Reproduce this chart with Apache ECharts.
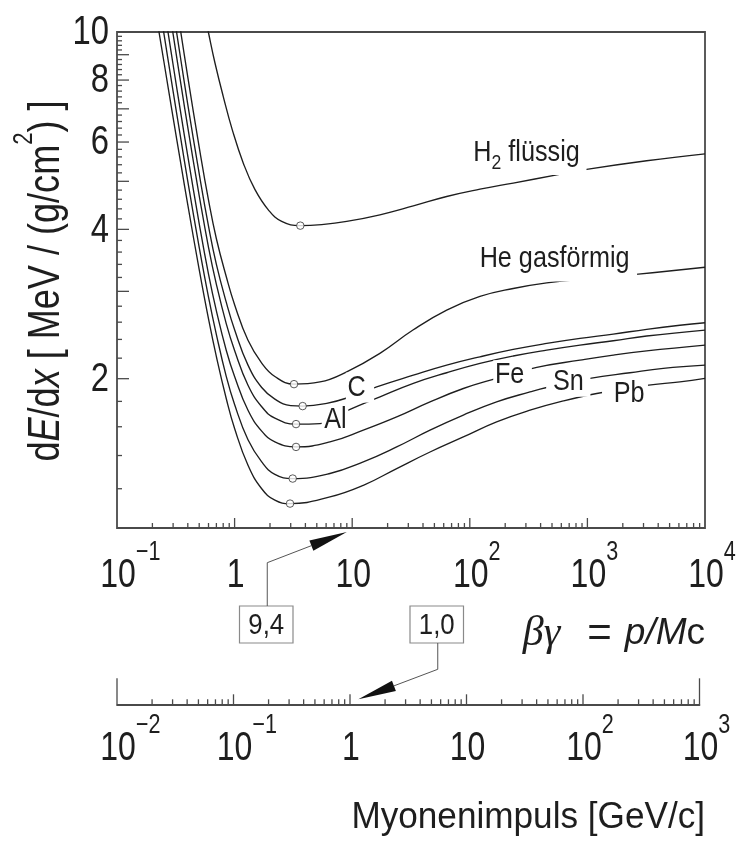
<!DOCTYPE html>
<html>
<head>
<meta charset="utf-8">
<script src="https://cdn.jsdelivr.net/npm/echarts@6.0.0/dist/echarts.min.js"></script>
<style>
html,body{margin:0;padding:0;background:#fff;}
#chart{width:745px;height:843px;}
</style>
</head>
<body>
<div id="chart"></div>
<script>
// ---------------- data ----------------
// βγ and dE/dx [MeV/(g/cm²)]
const h2Bg   = [0.55, 0.598, 0.681, 0.801, 0.956, 1.186, 1.491, 1.935, 2.515, 3.62, 5.5, 8.98, 17.2, 33.1, 63.6, 122, 234, 548, 1018, 3190, 10000];
const h2Dedx = [11.0, 10.0, 8.66, 7.41, 6.35, 5.44, 4.81, 4.38, 4.15, 4.07, 4.09, 4.15, 4.28, 4.46, 4.66, 4.82, 4.96, 5.15, 5.29, 5.50, 5.68];

const heBg   = [0.3, 0.35, 0.4, 0.5, 0.6, 0.7, 0.85, 1.0, 1.3, 1.7, 2.2, 3.2, 5.32, 8.98, 17.2, 33.1, 63.6, 122, 234, 451, 1122, 2710, 10000];
const heDedx = [12.68, 9.94, 8.11, 5.86, 4.58, 3.83, 3.21, 2.82, 2.39, 2.15, 2.02, 1.95, 1.97, 2.065, 2.25, 2.51, 2.75, 2.93, 3.04, 3.12, 3.19, 3.25, 3.355];

const cBg   = [0.3, 0.35, 0.4, 0.5, 0.6, 0.7, 0.85, 1.0, 1.3, 1.7, 2.2, 3.0, 3.79, 6.07, 9.58, 16.16, 33.1, 63.6, 122, 234, 451, 865, 1660, 3190, 6120, 10000];
const cDedx = [11.10, 8.75, 7.14, 5.18, 4.06, 3.40, 2.85, 2.51, 2.13, 1.92, 1.819, 1.765, 1.761, 1.783, 1.838, 1.926, 2.033, 2.13, 2.214, 2.291, 2.356, 2.412, 2.46, 2.515, 2.563, 2.593];

const alBg   = [0.25, 0.3, 0.35, 0.4, 0.5, 0.6, 0.7, 0.85, 1.0, 1.3, 1.7, 2.2, 3.33, 5.32, 9.27, 17.24, 33.1, 63.6, 122, 234, 451, 865, 1660, 3190, 10000];
const alDedx = [13.14, 9.90, 7.83, 6.42, 4.68, 3.68, 3.10, 2.58, 2.28, 1.94, 1.756, 1.665, 1.62, 1.624, 1.728, 1.838, 1.957, 2.056, 2.147, 2.222, 2.284, 2.338, 2.385, 2.438, 2.506];

const feBg   = [0.25, 0.3, 0.35, 0.4, 0.5, 0.6, 0.7, 0.85, 1.0, 1.3, 1.7, 2.2, 3.33, 6.47, 12.43, 23.9, 45.9, 88.1, 158, 371, 865, 1660, 3190, 10000];
const feDedx = [11.33, 8.59, 6.82, 5.62, 4.11, 3.25, 2.74, 2.28, 2.02, 1.727, 1.568, 1.492, 1.457, 1.491, 1.575, 1.675, 1.796, 1.911, 1.994, 2.108, 2.18, 2.232, 2.276, 2.338];

const snBg   = [0.2, 0.25, 0.3, 0.35, 0.4, 0.5, 0.6, 0.7, 0.85, 1.0, 1.3, 1.7, 2.2, 3.12, 6.47, 12.43, 23.9, 45.9, 88.1, 169, 325, 451, 1052, 2300, 4420, 10000];
const snDedx = [13.87, 9.96, 7.59, 6.06, 5.00, 3.68, 2.92, 2.455, 2.02, 1.774, 1.506, 1.359, 1.283, 1.258, 1.288, 1.359, 1.457, 1.575, 1.689, 1.796, 1.881, 1.92, 2.003, 2.056, 2.098, 2.13];

const pbBg   = [0.2, 0.25, 0.3, 0.35, 0.4, 0.5, 0.6, 0.7, 0.85, 1.0, 1.3, 1.7, 2.2, 2.96, 6.47, 12.43, 23.9, 45.9, 88.1, 169, 325, 624, 1200, 3190, 6120, 10000];
const pbDedx = [12.04, 8.74, 6.72, 5.40, 4.48, 3.32, 2.64, 2.215, 1.822, 1.587, 1.338, 1.20, 1.138, 1.12, 1.155, 1.219, 1.318, 1.423, 1.526, 1.637, 1.728, 1.804, 1.867, 1.939, 1.971, 2.003];

// minima (open circles)
const minBg   = [3.62, 3.2, 3.79, 3.33, 3.33, 3.12, 2.96];
const minDedx = [4.07, 1.95, 1.761, 1.62, 1.457, 1.258, 1.12];

// curve labels
const curveLabels    = ['{t|H}{s|2}{t| flüssig}', '{t|He gasförmig}', '{t|C}', '{t|Al}', '{t|Fe}', '{t|Sn}', '{t|Pb}'];
const curveLabelBg   = [314, 548, 11.65, 7.14, 231, 688, 2088];
const curveLabelDedx = [5.61, 3.43, 1.919, 1.65, 2.033, 1.971, 1.862];

// axes / ticks
const bgMin = 0.1, bgMax = 10000;
const dedxMin = 1, dedxMax = 10;
const pMin = 0.01, pMax = 1000;
const yTickValues = [1.2,1.4,1.6,1.8,2,2.2,2.4,2.6,2.8,3,3.2,3.4,3.6,3.8,4,4.2,4.4,4.6,4.8,5,5.2,5.4,5.6,5.8,6,6.2,6.4,6.6,6.8,7,7.2,7.4,7.6,7.8,8,8.2,8.4,8.6,8.8,9,9.2,9.4,9.6,9.8];
const yLabelValues = [2, 4, 6, 8, 10];
const decadeSteps = [2, 3, 4, 5, 6, 7, 8, 9];
const bgDecades = [0.1, 1, 10, 100, 1000];
const pDecades = [0.01, 0.1, 1, 10, 100];
const bgLabelValues = [0.1, 1, 10, 100, 1000, 10000];
const pLabelValues = [0.01, 0.1, 1, 10, 100, 1000];

// annotations
const boxTexts = ['9,4', '1,0'];
const arrowTipBg = 9.0;   // arrow to βγ axis
const arrowTipP = 1.18;   // arrow to momentum axis

// ---------------- styling ----------------
const FR = "'Liberation Sans','Arial',sans-serif";
const FS = "'Liberation Serif','DejaVu Serif',serif";
const INK = '#1e1e1e';
const AX = '#4a4a4a';
const NARROW = 0.8;

const chart = echarts.init(document.getElementById('chart'), null, {renderer: 'canvas'});

function pairs(xs, ys) { return xs.map((x, i) => [x, ys[i]]); }

const curves = [
  [h2Bg, h2Dedx], [heBg, heDedx], [cBg, cDedx], [alBg, alDedx],
  [feBg, feDedx], [snBg, snDedx], [pbBg, pbDedx]
];

function powLabel(v) {
  const e = Math.round(Math.log10(v));
  if (e === 0) return '{b|1}';
  if (e === 1) return '{b|10}';
  const s = (e < 0 ? '−' : '') + Math.abs(e);
  return (s.length > 1 ? '{sp2| }' : '{sp1| }') + '{b|10}{sup|' + s + '}';
}
const powRich = {
  b:   {fontFamily: FR, fontSize: 40, fill: INK, lineHeight: 74, verticalAlign: 'middle'},
  sup: {fontFamily: FR, fontSize: 27, fill: INK, lineHeight: 4, verticalAlign: 'top'},
  sp1: {width: 15, lineHeight: 74, verticalAlign: 'middle'},
  sp2: {width: 31, lineHeight: 74, verticalAlign: 'middle'}
};

const labelPads = [[0, 8, 7, 4], [0, 9, 8, 4], [0, 10, 0, 2], [0, 2, 0, 3], [0, 9, 0, 2], [0, 8, 0, 8], [0, 4, 0, 14]];

const mainTicks = [];
bgDecades.forEach(d => decadeSteps.forEach(m => mainTicks.push([d * m, dedxMin, 0])));
[1, 10, 100, 1000].forEach(v => mainTicks.push([v, dedxMin, 1]));

const pTicks = [];
pDecades.forEach(d => decadeSteps.forEach(m => pTicks.push([d * m, 0, 0])));
[0.1, 1, 10, 100].forEach(v => pTicks.push([v, 0, 1]));
[pMin, pMax].forEach(v => pTicks.push([v, 0, 2]));

const series = [];
curves.forEach((c) => {
  series.push({
    type: 'line', xAxisIndex: 0, yAxisIndex: 0,
    data: pairs(c[0], c[1]),
    smooth: 0.45,
    symbol: 'none', showSymbol: false, clip: true,
    lineStyle: {color: INK, width: 1.35},
    z: 2, silent: true, animation: false
  });
});

// curve labels with white knock-out
series.push({
  type: 'custom', xAxisIndex: 0, yAxisIndex: 0,
  data: curveLabelBg.map((x, i) => [x, curveLabelDedx[i], i]),
  renderItem: (params, api) => {
    const p = api.coord([api.value(0), api.value(1)]);
    const i = api.value(2);
    return {
      type: 'text', x: p[0], y: p[1], scaleX: 0.84,
      style: {
        text: curveLabels[i], align: 'center', verticalAlign: 'middle',
        backgroundColor: '#fff', padding: labelPads[i],
        rich: {
          t: {fontFamily: FR, fontSize: 30, fill: INK, lineHeight: 30, verticalAlign: 'middle'},
          s: {fontFamily: FR, fontSize: 21, fill: INK, lineHeight: 9, verticalAlign: 'bottom', padding: [0, 0, -6, 0]}
        }
      }
    };
  },
  z: 3, silent: true, animation: false
});

series.push({
  type: 'scatter', xAxisIndex: 0, yAxisIndex: 0,
  data: pairs(minBg, minDedx),
  symbol: 'circle', symbolSize: 7.5,
  itemStyle: {color: '#fff', borderColor: '#333', borderWidth: 1},
  z: 4, silent: true, animation: false
});

// y ticks
series.push({
  type: 'custom', xAxisIndex: 0, yAxisIndex: 0,
  data: yTickValues.map(v => [bgMin, v]),
  renderItem: (params, api) => {
    const v = api.value(1);
    const p = api.coord([api.value(0), v]);
    const major = Math.abs(v - Math.round(v)) < 1e-9;
    return {type: 'line', shape: {x1: p[0], y1: p[1], x2: p[0] + (major ? 12 : 5), y2: p[1]}, style: {stroke: AX, lineWidth: 1.3}};
  },
  z: 5, silent: true, animation: false
});
// y labels
series.push({
  type: 'custom', xAxisIndex: 0, yAxisIndex: 0,
  data: yLabelValues.map(v => [bgMin, v]),
  renderItem: (params, api) => {
    const v = api.value(1);
    const p = api.coord([api.value(0), v]);
    return {
      type: 'text', x: p[0] - 8, y: p[1] + 1, scaleX: NARROW,
      style: {text: String(v), fontFamily: FR, fontSize: 41, fill: INK, align: 'right', verticalAlign: 'middle'}
    };
  },
  z: 5, silent: true, animation: false
});

// x ticks main axis
series.push({
  type: 'custom', xAxisIndex: 0, yAxisIndex: 0,
  data: mainTicks,
  renderItem: (params, api) => {
    const p = api.coord([api.value(0), api.value(1)]);
    const len = api.value(2) ? 10 : 5;
    return {type: 'line', shape: {x1: p[0], y1: p[1], x2: p[0], y2: p[1] - len}, style: {stroke: AX, lineWidth: 1.3}};
  },
  z: 5, silent: true, animation: false
});
// x labels main axis
series.push({
  type: 'custom', xAxisIndex: 0, yAxisIndex: 0,
  data: bgLabelValues.map(v => [v, dedxMin]),
  renderItem: (params, api) => {
    const v = api.value(0);
    const p = api.coord([v, api.value(1)]);
    return {
      type: 'text', x: p[0] + 1, y: p[1] + 48, scaleX: NARROW,
      style: {text: powLabel(v), rich: powRich, align: 'center', verticalAlign: 'middle'}
    };
  },
  z: 5, silent: true, animation: false
});

// momentum axis ticks
series.push({
  type: 'custom', xAxisIndex: 1, yAxisIndex: 1,
  data: pTicks,
  renderItem: (params, api) => {
    const p = api.coord([api.value(0), api.value(1)]);
    const k = api.value(2);
    const len = k === 2 ? 26 : (k === 1 ? 10 : 5);
    return {type: 'line', shape: {x1: p[0], y1: p[1], x2: p[0], y2: p[1] - len}, style: {stroke: AX, lineWidth: 1.3}};
  },
  z: 5, silent: true, animation: false
});
// momentum axis labels
series.push({
  type: 'custom', xAxisIndex: 1, yAxisIndex: 1,
  data: pLabelValues.map(v => [v, 0]),
  renderItem: (params, api) => {
    const v = api.value(0);
    const p = api.coord([v, api.value(1)]);
    return {
      type: 'text', x: p[0] + 1, y: p[1] + 45, scaleX: NARROW,
      style: {text: powLabel(v), rich: powRich, align: 'center', verticalAlign: 'middle'}
    };
  },
  z: 5, silent: true, animation: false
});

const option = {
  backgroundColor: '#fff',
  animation: false,
  grid: [
    {left: 117, top: 32, width: 588, height: 496, show: true, borderColor: AX, borderWidth: 1.8, backgroundColor: 'transparent', containLabel: false, outerBoundsMode: 'none'},
    {left: 117, top: 680, width: 582.5, height: 24.3, show: false, containLabel: false, outerBoundsMode: 'none'}
  ],
  xAxis: [
    {
      type: 'log', logBase: 10, gridIndex: 0, min: bgMin, max: bgMax,
      axisLine: {show: false}, axisTick: {show: false}, splitLine: {show: false}, axisLabel: {show: false}
    },
    {
      type: 'log', logBase: 10, gridIndex: 1, min: pMin, max: pMax,
      axisLine: {show: true, onZero: false, lineStyle: {color: AX, width: 1.8}},
      axisTick: {show: false}, splitLine: {show: false}, axisLabel: {show: false}
    }
  ],
  yAxis: [
    {
      type: 'log', logBase: 10, gridIndex: 0, min: dedxMin, max: dedxMax,
      axisLine: {show: false}, axisTick: {show: false}, axisLabel: {show: false}, splitLine: {show: false}
    },
    {type: 'value', gridIndex: 1, min: 0, max: 1, show: false}
  ],
  series
};

chart.setOption(option);

// ---------------- annotations (anchored through the axes) ----------------
const tip1x = chart.convertToPixel({xAxisIndex: 0}, arrowTipBg);
const axis0y = chart.convertToPixel({yAxisIndex: 0}, dedxMin);
const tip2x = chart.convertToPixel({xAxisIndex: 1}, arrowTipP);
const axis1y = chart.convertToPixel({yAxisIndex: 1}, 0);

function arrow(elbow, tip) {
  const dx = tip[0] - elbow[0], dy = tip[1] - elbow[1];
  const L = Math.hypot(dx, dy), ux = dx / L, uy = dy / L;
  const base = [tip[0] - ux * 38, tip[1] - uy * 38];
  const px = -uy * 5.5, py = ux * 5.5;
  return {
    line: base,
    head: [[tip[0], tip[1]], [base[0] + px, base[1] + py], [base[0] - px, base[1] - py]]
  };
}

const box1 = {x: 239.5, y: 606, w: 53.5, h: 37};
const box2 = {x: 410, y: 606, w: 53.5, h: 37};
const elbow1 = [box1.x + box1.w / 2 + 1, 562.7];
const tip1 = [tip1x, axis0y + 4];
const a1 = arrow(elbow1, tip1);
const elbow2 = [box2.x + box2.w / 2 + 1, 669.3];
const tip2 = [tip2x, axis1y - 5];
const a2 = arrow(elbow2, tip2);

const graphics = [
  {type: 'rect', shape: {x: box1.x, y: box1.y, width: box1.w, height: box1.h}, style: {fill: '#fff', stroke: '#8a8a8a', lineWidth: 1.2}, z: 10},
  {type: 'text', x: box1.x + box1.w / 2, y: box1.y + box1.h / 2 + 1, scaleX: 0.86, style: {text: boxTexts[0], fontFamily: FR, fontSize: 30, fill: INK, align: 'center', verticalAlign: 'middle'}, z: 11},
  {type: 'rect', shape: {x: box2.x, y: box2.y, width: box2.w, height: box2.h}, style: {fill: '#fff', stroke: '#8a8a8a', lineWidth: 1.2}, z: 10},
  {type: 'text', x: box2.x + box2.w / 2, y: box2.y + box2.h / 2 + 1, scaleX: 0.86, style: {text: boxTexts[1], fontFamily: FR, fontSize: 30, fill: INK, align: 'center', verticalAlign: 'middle'}, z: 11},
  {type: 'polyline', shape: {points: [[elbow1[0], box1.y], elbow1, a1.line]}, style: {stroke: '#555', lineWidth: 1, fill: null}, z: 10},
  {type: 'polygon', shape: {points: a1.head}, style: {fill: '#111'}, z: 10},
  {type: 'polyline', shape: {points: [[elbow2[0], box2.y + box2.h], elbow2, a2.line]}, style: {stroke: '#555', lineWidth: 1, fill: null}, z: 10},
  {type: 'polygon', shape: {points: a2.head}, style: {fill: '#111'}, z: 10},
  // y axis title
  {
    type: 'text', x: 47, y: 281, rotation: Math.PI / 2, scaleX: 0.82,
    style: {
      text: '{r|d}{i|E}{r|/d}{i|x}{r| [ MeV / (g/cm}{sup|2}{r|) ]}',
      align: 'center', verticalAlign: 'middle',
      rich: {
        r: {fontFamily: FR, fontSize: 44, fill: INK, lineHeight: 72, verticalAlign: 'middle'},
        i: {fontFamily: FR, fontSize: 44, fontStyle: 'italic', fill: INK, lineHeight: 72, verticalAlign: 'middle'},
        sup: {fontFamily: FR, fontSize: 27, fill: INK, lineHeight: 6, verticalAlign: 'top'}
      }
    },
    z: 10
  },
  // βγ title
  {
    type: 'text', x: 705, y: 634,
    style: {
      text: '{g|βγ}{e|=}{i|p/M}{c|c}',
      align: 'right', verticalAlign: 'middle',
      rich: {
        g: {fontFamily: FS, fontStyle: 'italic', fontSize: 42, fill: INK, lineHeight: 44, verticalAlign: 'middle'},
        e: {fontFamily: FR, fontSize: 42, fill: INK, lineHeight: 44, verticalAlign: 'middle', padding: [0, 13, 0, 27]},
        i: {fontFamily: FR, fontStyle: 'italic', fontSize: 37, fill: INK, lineHeight: 44, verticalAlign: 'middle'},
        c: {fontFamily: FR, fontSize: 37, fill: INK, lineHeight: 44, verticalAlign: 'middle'}
      }
    },
    z: 10
  },
  // momentum title
  {
    type: 'text', x: 705, y: 818, scaleX: 0.95,
    style: {text: 'Myonenimpuls [GeV/c]', fontFamily: FR, fontSize: 37, fill: INK, align: 'right', verticalAlign: 'middle'},
    z: 10
  }
];

chart.setOption({graphic: graphics});
</script>
</body>
</html>
